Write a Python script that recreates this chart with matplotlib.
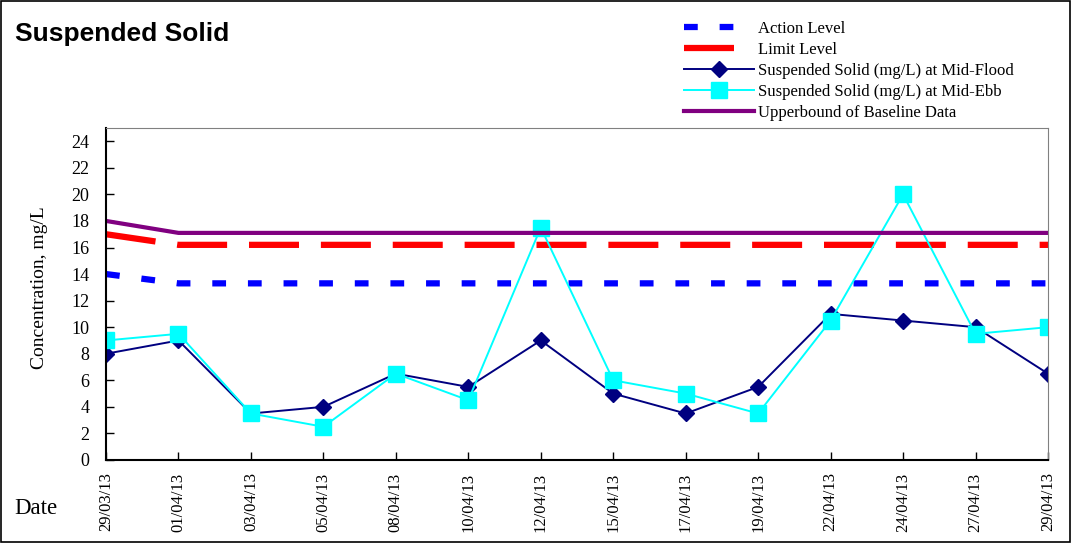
import matplotlib
matplotlib.use("Agg")
import matplotlib.pyplot as plt
from matplotlib.patches import Rectangle

dates = ["29/03/13", "01/04/13", "03/04/13", "05/04/13", "08/04/13", "10/04/13", "12/04/13",
         "15/04/13", "17/04/13", "19/04/13", "22/04/13", "24/04/13", "27/04/13", "29/04/13"]
action_level = [14.0, 13.3, 13.3, 13.3, 13.3, 13.3, 13.3, 13.3, 13.3, 13.3, 13.3, 13.3, 13.3, 13.3]
limit_level = [17.0, 16.2, 16.2, 16.2, 16.2, 16.2, 16.2, 16.2, 16.2, 16.2, 16.2, 16.2, 16.2, 16.2]
mid_flood = [8, 9, 3.5, 4, 6.5, 5.5, 9, 5, 3.5, 5.5, 11, 10.5, 10, 6.5]
mid_ebb = [9, 9.5, 3.5, 2.5, 6.5, 4.5, 17.5, 6, 5, 3.5, 10.5, 20, 9.5, 10]
upperbound = [18.0, 17.1, 17.1, 17.1, 17.1, 17.1, 17.1, 17.1, 17.1, 17.1, 17.1, 17.1, 17.1, 17.1]
yticks = list(range(0, 25, 2))

serif = ["Liberation Serif", "DejaVu Serif"]

fig = plt.figure(figsize=(10.72, 5.43), dpi=100)
fig.patches.append(Rectangle((0.001, 0.002), 0.997, 0.996, transform=fig.transFigure,
                             fill=False, edgecolor="black", linewidth=1.2))
ax = fig.add_axes([0.0989, 0.1529, 0.8787, 0.6114])
x = list(range(len(dates)))

ax.plot(x, action_level, color="#0000FF", lw=4.5, dashes=(2.2, 3.5), label="Action Level")
ax.plot(x, limit_level, color="#FF0000", lw=4.5, dashes=(8, 3.5), label="Limit Level")
ax.plot(x, mid_flood, color="#000080", lw=1.4, marker="D", markersize=8.5,
        label="Suspended Solid (mg/L) at Mid-Flood")
ax.plot(x, mid_ebb, color="#00FFFF", lw=1.4, marker="s", markersize=11,
        label="Suspended Solid (mg/L) at Mid-Ebb")
ax.plot(x, upperbound, color="#800080", lw=3, label="Upperbound of Baseline Data")

ax.set_xlim(0, len(dates) - 1)
ax.set_ylim(0, 25)
ax.set_yticks(yticks)
ax.set_xticks(x)
ax.set_xticklabels(dates, rotation=90, fontfamily=serif, fontsize=12)
for lbl in ax.get_yticklabels():
    lbl.set_fontfamily(serif)
    lbl.set_fontsize(13)
ax.tick_params(axis="y", direction="in", length=6, width=1, colors="black", pad=12)
ax.tick_params(axis="x", direction="in", length=6, width=1, colors="black", pad=9)
for s in ["top", "right"]:
    ax.spines[s].set_color("#808080")
for s in ["left", "bottom"]:
    ax.spines[s].set_color("black")
    ax.spines[s].set_linewidth(1.5)

fig.text(0.0365, 0.47, "Concentration, mg/L", fontfamily=serif, fontsize=14,
         rotation=90, ha="center", va="center")
fig.text(0.014, 0.937, "Suspended Solid", fontsize=19, fontweight="bold",
         fontfamily=["Liberation Sans", "DejaVu Sans"], va="center")
fig.text(0.013, 0.063, "Date", fontsize=16.5, fontfamily=serif, va="center")

leg = fig.legend(loc="upper left", bbox_to_anchor=(0.627, 0.983), frameon=False,
                 prop={"family": serif, "size": 12}, handlelength=4.2,
                 handletextpad=0.25, labelspacing=0.3, borderpad=0.2)

fig.savefig("out.png", dpi=100)
